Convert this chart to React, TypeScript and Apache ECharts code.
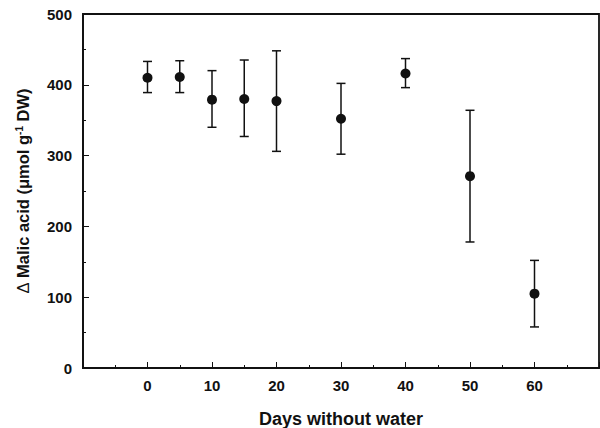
import React, { useEffect, useRef } from "react";
import * as echarts from "echarts";

const days = [0, 5, 10, 15, 20, 30, 40, 50, 60];
const malic = [410, 411, 379, 380, 377, 352, 416, 271, 105];
const errUpper = [433, 434, 420, 435, 448, 402, 437, 364, 152];
const errLower = [389, 389, 340, 327, 306, 302, 396, 178, 58];
const xTickLabels = ["0", "10", "20", "30", "40", "50", "60"];

export default function App() {
  const ref = useRef<HTMLDivElement>(null);
  useEffect(() => {
    if (!ref.current) return;
    const chart = echarts.init(ref.current, null, { renderer: "svg" });
    const font = "'Liberation Sans', Arial, sans-serif";
    const points = days.map((d, i) => [d, malic[i]]);
    const bars = days.map((d, i) => [d, errLower[i], errUpper[i]]);
    chart.setOption({
      animation: false,
      grid: {
        left: 83,
        top: 14,
        right: 1,
        bottom: 60,
        outerBoundsMode: "none",
        containLabel: false,
        show: true,
        borderColor: "#111",
        borderWidth: 1.8,
        backgroundColor: "transparent",
      },
      xAxis: {
        type: "value",
        min: -10,
        max: 70,
        interval: 10,
        name: "Days without water",
        nameLocation: "middle",
        nameGap: 42,
        nameTextStyle: { fontFamily: font, fontWeight: "bold", fontSize: 18, color: "#111" },
        axisLine: { onZero: false, lineStyle: { color: "#111", width: 1.8 } },
        axisTick: { inside: true, length: 6, lineStyle: { color: "#111" } },
        minorTick: { show: true, splitNumber: 2, length: 3, lineStyle: { color: "#111" } },
        splitLine: { show: false },
        axisLabel: {
          margin: 10,
          fontFamily: font,
          fontWeight: "bold",
          fontSize: 15,
          color: "#111",
          formatter: (v: number) => (xTickLabels.includes(String(v)) ? String(v) : ""),
        },
      },
      yAxis: {
        type: "value",
        min: 0,
        max: 500,
        interval: 100,
        name: "{d|Δ} {a|Malic acid (μmol g}{s|-1}{a| DW)}",
        nameLocation: "middle",
        nameGap: 51,
        nameTextStyle: {
          fontFamily: font,
          fontWeight: "bold",
          fontSize: 16.5,
          color: "#111",
          rich: {
            a: { fontFamily: font, fontWeight: "bold", fontSize: 16.5, color: "#111" },
            d: { fontFamily: font, fontWeight: "normal", fontSize: 16.5, color: "#111" },
            s: { fontFamily: font, fontWeight: "bold", fontSize: 10, color: "#111", verticalAlign: "top", padding: [0, 0, 8, 0] },
          },
        },
        axisLine: { onZero: false, lineStyle: { color: "#111", width: 1.8 } },
        axisTick: { inside: true, length: 6, lineStyle: { color: "#111" } },
        minorTick: { show: true, splitNumber: 2, length: 3, lineStyle: { color: "#111" } },
        splitLine: { show: false },
        axisLabel: { margin: 11, fontFamily: font, fontWeight: "bold", fontSize: 15, color: "#111" },
      },
      series: [
        {
          type: "custom",
          data: bars,
          renderItem: (params: any, api: any) => {
            const x = api.value(0);
            const lo = api.coord([x, api.value(1)]);
            const hi = api.coord([x, api.value(2)]);
            const hw = 4.5;
            const style = { stroke: "#111", lineWidth: 1.5 };
            return {
              type: "group",
              children: [
                { type: "line", shape: { x1: lo[0], y1: lo[1], x2: hi[0], y2: hi[1] }, style },
                { type: "line", shape: { x1: hi[0] - hw, y1: hi[1], x2: hi[0] + hw, y2: hi[1] }, style },
                { type: "line", shape: { x1: lo[0] - hw, y1: lo[1], x2: lo[0] + hw, y2: lo[1] }, style },
              ],
            };
          },
          z: 2,
        },
        {
          type: "scatter",
          data: points,
          symbol: "circle",
          symbolSize: 10,
          itemStyle: { color: "#111", opacity: 1 },
          z: 3,
        },
      ],
    });
    return () => chart.dispose();
  }, []);
  return <div ref={ref} style={{ width: 600, height: 428, position: "absolute", left: 0, top: 0 }} />;
}
